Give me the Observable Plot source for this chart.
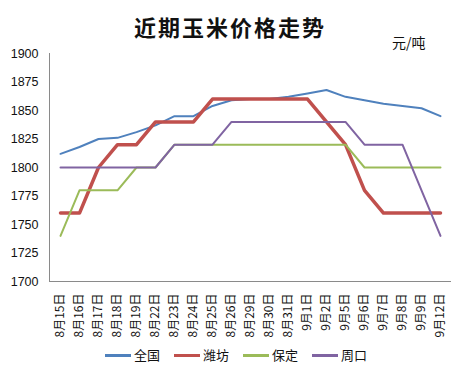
<!DOCTYPE html>
<html><head><meta charset="utf-8">
<script src="https://cdn.jsdelivr.net/npm/d3@7"></script>
<script src="https://cdn.jsdelivr.net/npm/@observablehq/plot@0.6"></script>
<style>
body{margin:0;background:#fff;width:460px;height:370px;overflow:hidden;font-family:"Liberation Sans","Noto Sans CJK SC",sans-serif;}
#wrap{position:relative;width:460px;height:370px;}
#title{position:absolute;left:0;width:460px;top:9px;text-align:center;font-family:"Noto Sans CJK SC";font-weight:700;font-size:22px;letter-spacing:2px;line-height:34px;color:#111;}
#unit{position:absolute;left:392px;top:32px;font-family:"Noto Sans CJK SC";font-size:14px;line-height:20px;color:#111;z-index:2;}
#chart{position:absolute;left:0;top:45px;z-index:1;}
#legend{position:absolute;left:0;top:345px;width:460px;display:flex;justify-content:center;gap:14px;font-family:"Noto Sans CJK SC";font-size:13px;line-height:20px;color:#111;padding-left:12px;box-sizing:border-box;}
#legend span{display:flex;align-items:center;gap:3px;}
#legend i{display:inline-block;width:26px;height:3px;}
</style></head>
<body><div id="wrap">
<div id="title">近期玉米价格走势</div>
<div id="unit">元/吨</div>
<div id="chart"></div>
<div id="legend"></div>
</div>
<script>
const dates = ["8月15日","8月16日","8月17日","8月18日","8月19日","8月22日","8月23日","8月24日","8月25日","8月26日","8月29日","8月30日","8月31日","9月1日","9月2日","9月5日","9月6日","9月7日","9月8日","9月9日","9月12日"];
const seriesNames = ["全国","潍坊","保定","周口"];
const quanguo = [1812,1818,1825,1826,1831,1837,1845,1845,1854,1859,1860,1860,1862,1865,1868,1862,1859,1856,1854,1852,1845];
const weifang = [1760,1760,1800,1820,1820,1840,1840,1840,1860,1860,1860,1860,1860,1860,1840,1820,1780,1760,1760,1760,1760];
const baoding = [1740,1780,1780,1780,1800,1800,1820,1820,1820,1820,1820,1820,1820,1820,1820,1820,1800,1800,1800,1800,1800];
const zhoukou = [1800,1800,1800,1800,1800,1800,1820,1820,1820,1840,1840,1840,1840,1840,1840,1840,1820,1820,1820,1780,1740];
const yTicks = [1700,1725,1750,1775,1800,1825,1850,1875,1900];
const colors = ["#4F81BD","#C0504D","#9BBB59","#8064A2"];
const widths = [2,3.5,2,2];

const values = [quanguo, weifang, baoding, zhoukou];
const data = [];
seriesNames.forEach((s, k) => dates.forEach((d, i) => data.push({date: d, value: values[k][i], series: s})));

const chart = Plot.plot({
  width: 460, height: 300,
  marginLeft: 49, marginRight: 9, marginTop: 8, marginBottom: 64,
  style: {fontFamily: '"Liberation Sans","Noto Sans CJK SC",sans-serif', background: "transparent", color: "#111"},
  x: {type: "point", domain: dates, padding: 0.5, label: null},
  y: {domain: [1700, 1900], label: null},
  marks: [
    Plot.axisY({ticks: yTicks, tickFormat: "d", tickSize: 0, tickPadding: 11, fontSize: 12.5, label: null}),
    Plot.axisX({tickSize: 0, tickRotate: -90, tickPadding: 12, fontSize: 12, fontFamily: '"Noto Sans CJK SC"', label: null}),
    Plot.ruleY([1700], {stroke: "#8a8a8a", strokeWidth: 1}),
    ...seriesNames.map((s, k) => Plot.line(data.filter(d => d.series === s), {x: "date", y: "value", stroke: colors[k], strokeWidth: widths[k], strokeLinejoin: "round"})),
    Plot.frame({anchor: "left", stroke: "#8a8a8a"})
  ]
});
document.getElementById("chart").appendChild(chart);

const lg = document.getElementById("legend");
seriesNames.forEach((s, k) => {
  const sp = document.createElement("span");
  const sw = document.createElement("i");
  sw.style.background = colors[k];
  sp.appendChild(sw);
  sp.appendChild(document.createTextNode(s));
  lg.appendChild(sp);
});
</script>
</body></html>
